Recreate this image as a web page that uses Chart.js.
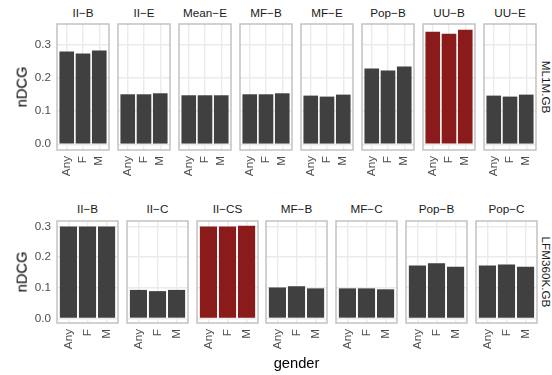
<!DOCTYPE html>
<html>
<head>
<meta charset="utf-8">
<script src="https://cdn.jsdelivr.net/npm/chart.js@4.4.1/dist/chart.umd.min.js"></script>
<style>
  body { margin:0; width:552px; height:375px; position:relative; background:#fff; overflow:hidden;
         font-family:'Liberation Sans', Arial, sans-serif; }
  canvas { position:absolute; }
  .t { position:absolute; white-space:nowrap; line-height:1; transform:translate(-50%,-50%); }
  .rl { transform:translate(-50%,-50%) rotate(-90deg); }
  .rr { transform:translate(-50%,-50%) rotate(90deg); }
</style>
</head>
<body>
<script>
// ---------------- data ----------------
const genders = ['Any', 'F', 'M'];

const ml1mAlgos = ['II-B', 'II-E', 'Mean-E', 'MF-B', 'MF-E', 'Pop-B', 'UU-B', 'UU-E'];
const ml1mAny   = [0.280, 0.151, 0.148, 0.151, 0.147, 0.229, 0.340, 0.147];
const ml1mF     = [0.274, 0.151, 0.148, 0.151, 0.144, 0.223, 0.334, 0.144];
const ml1mM     = [0.283, 0.154, 0.148, 0.154, 0.150, 0.235, 0.346, 0.150];
const ml1mHighlight = 'UU-B';

const lfmAlgos = ['II-B', 'II-C', 'II-CS', 'MF-B', 'MF-C', 'Pop-B', 'Pop-C'];
const lfmAny   = [0.300, 0.093, 0.300, 0.101, 0.098, 0.173, 0.173];
const lfmF     = [0.300, 0.089, 0.300, 0.105, 0.098, 0.180, 0.176];
const lfmM     = [0.300, 0.093, 0.303, 0.098, 0.095, 0.169, 0.169];
const lfmHighlight = 'II-CS';

const yMajorTicks = [0, 0.1, 0.2, 0.3];
const yMinorTicks = [0.05, 0.15, 0.25, 0.35];

// ---------------- styling / layout ----------------
const FONT = "'Liberation Sans', Arial, sans-serif";
const DARK = '#404040', RED = '#8B1A1A';
Chart.defaults.font.family = FONT;

const rows = [
  { name:'ML1M.GB', algos:ml1mAlgos, series:[ml1mAny, ml1mF, ml1mM], hl:ml1mHighlight,
    x0:56.7, pitch:61.0, w:52.5, top:24, bottom:150, stripY:13.3 },
  { name:'LFM360K.GB', algos:lfmAlgos, series:[lfmAny, lfmF, lfmM], hl:lfmHighlight,
    x0:57.3, pitch:69.7, w:61, top:221, bottom:323, stripY:209.2 }
];

function addText(txt, x, y, size, color, cls) {
  const d = document.createElement('div');
  d.className = 't' + (cls ? ' ' + cls : '');
  d.textContent = txt;
  d.style.left = x + 'px'; d.style.top = y + 'px';
  d.style.fontSize = size + 'px'; d.style.color = color;
  document.body.appendChild(d);
}

function zeroPad(s) { s.paddingTop = 0; s.paddingBottom = 0; s.paddingLeft = 0; s.paddingRight = 0; }

const borderPlugin = {
  id: 'panelBorder',
  afterDraw(chart) {
    const { ctx, chartArea: a } = chart;
    ctx.save();
    ctx.strokeStyle = '#BEBEBE';
    ctx.lineWidth = 1.4;
    ctx.strokeRect(a.left, a.top, a.right - a.left, a.bottom - a.top);
    ctx.restore();
  }
};

rows.forEach(row => {
  const all = row.series.flat();
  const ymax = Math.max(...all);
  const lo = -0.05 * ymax, hi = 1.05 * ymax;

  row.algos.forEach((algo, i) => {
    const pl = Math.round(row.x0 + i * row.pitch);
    const pr = Math.round(row.x0 + i * row.pitch + row.w);
    const pt = row.top, pb = row.bottom;
    const first = i === 0;
    const yW = first ? 46 : 0;
    const pad = 2;
    const xH = 34;
    const cl = pl - yW - (first ? 0 : pad);
    const ct = pt - pad;
    const cw = (pr - pl) + yW + (first ? 0 : pad) + pad;
    const ch = (pb - pt) + pad + xH;

    const cv = document.createElement('canvas');
    cv.width = cw; cv.height = ch;
    cv.style.left = cl + 'px'; cv.style.top = ct + 'px';
    cv.style.width = cw + 'px'; cv.style.height = ch + 'px';
    document.body.appendChild(cv);

    const vals = row.series.map(s => s[i]);
    const color = algo === row.hl ? RED : DARK;

    new Chart(cv, {
      type: 'bar',
      data: {
        datasets: [{
          data: genders.map((g, k) => ({ x: k + 1, y: vals[k] })),
          backgroundColor: color,
          borderWidth: 0,
          barPercentage: 0.9,
          categoryPercentage: 1.0
        }]
      },
      options: {
        responsive: false,
        animation: false,
        events: [],
        devicePixelRatio: 1,
        layout: { padding: { left: first ? 0 : pad, right: pad, top: pad, bottom: 0 } },
        plugins: { legend: { display: false }, tooltip: { enabled: false }, title: { display: false } },
        scales: {
          x: {
            type: 'linear', min: 0.4, max: 3.6, offset: false, bounds: 'data',
            afterBuildTicks: s => { s.ticks = genders.map((g, k) => ({ value: k + 1 })); },
            ticks: {
              autoSkip: false, maxRotation: 90, minRotation: 90, padding: 6,
              color: '#4D4D4D', font: { size: 11.7, family: FONT },
              callback: v => genders[Math.round(v) - 1]
            },
            grid: { offset: false, color: '#EBEBEB', lineWidth: 1.4, drawTicks: false },
            border: { display: false },
            afterFit: s => { s.height = xH; zeroPad(s); }
          },
          y: {
            type: 'linear', min: lo, max: hi, bounds: 'data',
            afterBuildTicks: s => {
              s.ticks = yMajorTicks.map(v => ({ value: v }))
                .concat(yMinorTicks.filter(v => v < hi).map(v => ({ value: v, minor: true })))
                .sort((a, b) => a.value - b.value);
            },
            ticks: {
              display: first, padding: 6, color: '#4D4D4D', font: { size: 11.7, family: FONT },
              callback: (v, idx, ticks) => ticks[idx].minor ? null : v.toFixed(1)
            },
            grid: {
              color: '#EBEBEB', drawTicks: false,
              lineWidth: c => (c.tick && c.tick.minor) ? 0.7 : 1.4
            },
            border: { display: false },
            afterFit: s => { s.width = yW; zeroPad(s); }
          }
        }
      },
      plugins: [borderPlugin]
    });

    // facet strip label
    addText(algo.replace('-', '\u2212'), (pl + pr) / 2, row.stripY, 11.7, '#1A1A1A');
  });

  const midY = (row.top + row.bottom) / 2;
  addText('nDCG', 21.5, midY, 14.7, '#000', 'rl');
  addText(row.name, 545.5, midY, 11.7, '#1A1A1A', 'rr');
});

addText('gender', 296.5, 363, 14.7, '#000');
</script>
</body>
</html>
